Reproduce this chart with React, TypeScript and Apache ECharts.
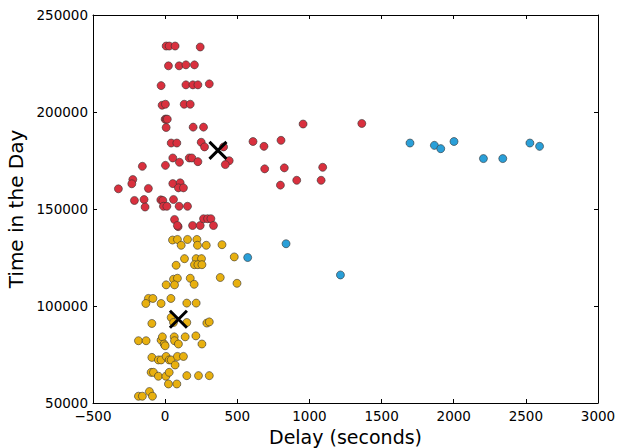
import React, { useEffect, useRef } from "react";
import * as echarts from "echarts";

// [delay (s), time in the day]
const redPoints: number[][] = [
  [7, 234000], [28, 234000], [69, 234000], [243, 233500],
  [23, 223800], [97, 223800], [144, 224300], [203, 224300],
  [-28, 213600], [144, 214000], [192, 214000], [227, 214000], [306, 214500],
  [-21, 203500], [2, 204000], [132, 204000], [174, 204000],
  [0, 196300], [7, 196300], [15, 196300],
  [7, 192000], [194, 192200], [266, 192200],
  [42, 184000], [81, 184000], [250, 184400], [273, 182000], [405, 182000], [609, 184800],
  [685, 182300], [803, 185400], [956, 193800], [1363, 194100],
  [53, 176300], [99, 174100], [167, 176300], [185, 176300], [227, 174400], [-158, 172000], [2, 172500],
  [444, 174900], [417, 172900],
  [690, 170700], [826, 171200], [1092, 171500], [912, 164800], [1081, 164800], [799, 162300],
  [-224, 165200], [-231, 163000], [-324, 160400], [-116, 160600], [53, 163100], [104, 163500], [92, 160900], [127, 160900],
  [-213, 154400], [-146, 154900], [-139, 151000], [-30, 154700], [-16, 154400], [-12, 151400], [12, 151400], [58, 154900], [97, 151400], [155, 151400],
  [65, 144600], [90, 140900], [85, 141500], [190, 141500], [243, 141500], [266, 145000], [294, 145000], [317, 145000], [335, 141500],
];

const yellowPoints: number[][] = [
  [51, 134000], [85, 134300], [111, 131300], [155, 134300], [220, 134300], [224, 131300], [285, 131300], [394, 131600],
  [479, 125300],
  [134, 124400], [215, 124400], [252, 124400], [76, 121000], [203, 121300], [227, 121300], [255, 121300],
  [58, 113800], [85, 114300], [174, 114300], [201, 111200], [7, 110900], [65, 110900], [382, 114700], [498, 111700],
  [-116, 103900], [-85, 103900], [-134, 101300], [-28, 101300], [40, 103900], [150, 101500], [215, 101500],
  [42, 94100], [58, 91500], [150, 91500], [-92, 91000], [289, 91200], [306, 91800],
  [-185, 82100], [-132, 82100], [-28, 82400], [-19, 84100], [-7, 80400], [0, 79500], [63, 84100], [65, 82100], [92, 80400], [139, 84100], [213, 84600], [255, 80400],
  [-92, 73500], [-47, 72200], [-28, 72200], [7, 74000], [28, 72200], [42, 72200], [69, 69600], [85, 74000], [127, 74000],
  [-97, 65800], [-81, 65800], [-47, 63800], [5, 63800], [28, 65800], [150, 64100], [231, 64100], [306, 64100],
  [23, 59800], [81, 59800],
  [-185, 53500], [-158, 53500], [-109, 55900], [-88, 53500],
];

const bluePoints: number[][] = [
  [572, 125000], [838, 132100], [1215, 116000],
  [1697, 184000], [1866, 182800], [1910, 181100], [2002, 184800],
  [2206, 176000], [2340, 176000], [2528, 184000], [2595, 182300],
];

const centroids: number[][] = [
  [366, 180200],
  [92, 93200],
];

const xTicks = { min: -500, max: 3000, interval: 500 };
const yTicks = { min: 50000, max: 250000, interval: 50000 };

const FONT = "DejaVu Sans";

export default function App() {
  const ref = useRef<HTMLDivElement>(null);
  useEffect(() => {
    if (!ref.current) return;
    const chart = echarts.init(ref.current, null, { renderer: "svg" });
    const fmt = (v: number) => String(v).replace("-", "\u2212");
    const baseAxisLine = { show: true, onZero: false, lineStyle: { color: "#000", width: 1 } };
    const tick = { show: true, inside: true, length: 4, lineStyle: { color: "#000", width: 1 } };
    const pointStyle = (c: string) => ({
      color: c,
      borderColor: "#333",
      borderWidth: 0.6,
      opacity: 1,
    });
    chart.setOption({
      animation: false,
      backgroundColor: "#fff",
      grid: { left: 93, right: 22, top: 15, bottom: 45, containLabel: false, outerBoundsMode: "none" },
      xAxis: [
        {
          type: "value",
          ...xTicks,
          position: "bottom",
          name: "Delay (seconds)",
          nameLocation: "middle",
          nameGap: 19,
          nameTextStyle: { fontFamily: FONT, fontSize: 19, color: "#000" },
          axisLine: baseAxisLine,
          axisTick: tick,
          splitLine: { show: false },
          axisLabel: { fontFamily: FONT, fontSize: 13.5, color: "#000", margin: 6, formatter: fmt },
        },
        {
          type: "value",
          ...xTicks,
          position: "top",
          axisLine: baseAxisLine,
          axisTick: tick,
          splitLine: { show: false },
          axisLabel: { show: false },
        },
      ],
      yAxis: [
        {
          type: "value",
          ...yTicks,
          position: "left",
          name: "Time in the Day",
          nameLocation: "middle",
          nameGap: 65,
          nameTextStyle: { fontFamily: FONT, fontSize: 20, color: "#000" },
          axisLine: baseAxisLine,
          axisTick: tick,
          splitLine: { show: false },
          axisLabel: { fontFamily: FONT, fontSize: 13.5, color: "#000", margin: 5, formatter: fmt },
        },
        {
          type: "value",
          ...yTicks,
          position: "right",
          axisLine: baseAxisLine,
          axisTick: tick,
          splitLine: { show: false },
          axisLabel: { show: false },
        },
      ],
      series: [
        {
          type: "scatter",
          data: redPoints,
          symbolSize: 8,
          itemStyle: pointStyle("#d9303e"),
        },
        {
          type: "scatter",
          data: yellowPoints,
          symbolSize: 8,
          itemStyle: pointStyle("#e8b00f"),
        },
        {
          type: "scatter",
          data: bluePoints,
          symbolSize: 8,
          itemStyle: pointStyle("#2a9fd8"),
        },
        {
          type: "scatter",
          data: centroids,
          symbol: "path://M0,0 L10,10 M10,0 L0,10",
          symbolSize: 17,
          itemStyle: { color: "none", borderColor: "#000", borderWidth: 3, opacity: 1 },
          emphasis: { disabled: true },
          z: 10,
        },
      ],
    });
    return () => chart.dispose();
  }, []);
  return <div ref={ref} style={{ width: 620, height: 448, position: "absolute", left: 0, top: 0 }} />;
}
